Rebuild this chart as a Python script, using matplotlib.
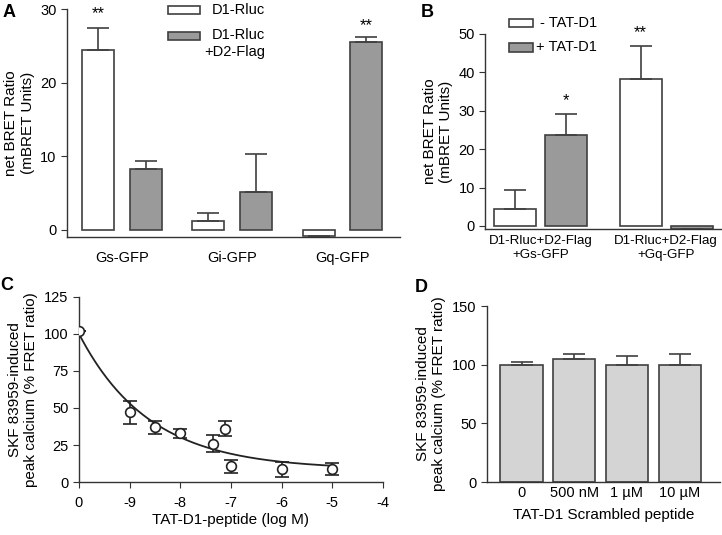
import numpy as np
import matplotlib.pyplot as plt
from matplotlib.patches import Rectangle

plt.rcParams['font.family'] = ['Liberation Sans', 'DejaVu Sans']
plt.rcParams['font.size'] = 10

# panel A
a_groups = ['Gs-GFP', 'Gi-GFP', 'Gq-GFP']
a_d1 = [24.5, 1.2, -0.9]
a_d1_err = [2.9, 1.0, 0.1]
a_d1d2 = [8.3, 5.1, 25.5]
a_d1d2_err = [1.0, 5.2, 0.7]

# panel B
b_groups = ['D1-Rluc+D2-Flag\n+Gs-GFP', 'D1-Rluc+D2-Flag\n+Gq-GFP']
b_minus = [4.5, 38.2]
b_minus_err = [4.8, 8.6]
b_plus = [23.7, -0.7]
b_plus_err = [5.5, 0.3]

# panel C
c_logm = [-10, -9, -8.5, -8, -7.35, -7.12, -7.0, -6, -5]
c_resp = [102, 47, 37, 33, 26, 36, 10.5, 8.5, 8.8]
c_err = [0, 7.7, 4.5, 3, 6, 5, 4.5, 5, 4]
c_ticks = [-10, -9, -8, -7, -6, -5, -4]
c_ticklabels = ['0', '-9', '-8', '-7', '-6', '-5', '-4']

# panel D
d_labels = ['0', '500 nM', '1 \u00b5M', '10 \u00b5M']
d_vals = [100, 105, 100, 100]
d_err = [2.5, 4.5, 7.5, 9.5]

white = 'white'
grey = '#9a9a9a'
edge = '#404040'
ekw = dict(ecolor=edge, elinewidth=1.2, capsize=8, capthick=1.2)

fig = plt.figure(figsize=(7.22, 5.35), dpi=100)


def style(ax):
    for s in ['top', 'right']:
        ax.spines[s].set_visible(False)
    for s in ['left', 'bottom']:
        ax.spines[s].set_color('#333333')
        ax.spines[s].set_linewidth(1.0)
    ax.tick_params(axis='y', direction='out', length=4, color='#333333', labelsize=10.5)
    ax.tick_params(axis='x', length=0, labelsize=10.5, pad=10)


def signed_err(vals, errs):
    # error bar drawn away from zero
    lo = [e if v < 0 else 0 for v, e in zip(vals, errs)]
    hi = [e if v >= 0 else 0 for v, e in zip(vals, errs)]
    return [lo, hi]


def key(ax, x0, y0, w, h, fc, label, tx, ty, size=10.5):
    ax.add_patch(Rectangle((x0, y0), w, h, transform=ax.transAxes, clip_on=False,
                           facecolor=fc, edgecolor=edge, linewidth=1.2))
    ax.text(tx, ty, label, transform=ax.transAxes, ha='left', va='center', fontsize=size)


# ---- A
axA = fig.add_axes([0.0928, 0.557, 0.461, 0.426])
x = np.arange(len(a_groups))
axA.bar(x - 0.217, a_d1, 0.29, color=white, edgecolor=edge, linewidth=1.2,
        yerr=signed_err(a_d1, a_d1_err), error_kw=ekw)
axA.bar(x + 0.217, a_d1d2, 0.29, color=grey, edgecolor=edge, linewidth=1.2,
        yerr=signed_err(a_d1d2, a_d1d2_err), error_kw=ekw)
axA.set_xlim(-0.5, 2.52)
axA.set_ylim(-1, 30)
axA.set_yticks([0, 10, 20, 30])
axA.set_xticks(x)
axA.set_xticklabels(a_groups)
axA.set_ylabel('net BRET Ratio\n(mBRET Units)', fontsize=11)
style(axA)
axA.text(x[0] - 0.217, a_d1[0] + a_d1_err[0] + 0.9, '**', ha='center', va='bottom', fontsize=12)
axA.text(x[2] + 0.217, a_d1d2[2] + a_d1d2_err[2] + 0.5, '**', ha='center', va='bottom', fontsize=12)
key(axA, 0.303, 0.978, 0.096, 0.035, white, 'D1-Rluc', 0.435, 0.997)
key(axA, 0.303, 0.864, 0.096, 0.035, grey, 'D1-Rluc', 0.435, 0.886)
axA.text(0.505, 0.811, '+D2-Flag', transform=axA.transAxes, ha='center', va='center', fontsize=10.5)

# ---- B
axB = fig.add_axes([0.672, 0.572, 0.328, 0.3645])
x = np.arange(len(b_groups))
axB.bar(x - 0.203, b_minus, 0.335, color=white, edgecolor=edge, linewidth=1.2,
        yerr=signed_err(b_minus, b_minus_err), error_kw=ekw)
axB.bar(x + 0.203, b_plus, 0.335, color=grey, edgecolor=edge, linewidth=1.2,
        yerr=signed_err(b_plus, b_plus_err), error_kw=ekw)
axB.set_xlim(-0.442, 1.446)
axB.set_ylim(-0.8, 50)
axB.set_yticks([0, 10, 20, 30, 40, 50])
axB.set_xticks(x)
axB.set_xticklabels(b_groups, linespacing=1.25)
axB.set_ylabel('net BRET Ratio\n(mBRET Units)', fontsize=11)
style(axB)
axB.tick_params(axis='x', pad=4, labelsize=9.6)
axB.text(x[0] + 0.203, b_plus[0] + b_plus_err[0] + 1.5, '*', ha='center', va='bottom', fontsize=12)
axB.text(x[1] - 0.203, b_minus[1] + b_minus_err[1] + 1.5, '**', ha='center', va='bottom', fontsize=12)
key(axB, 0.101, 1.036, 0.102, 0.041, white, '- TAT-D1', 0.232, 1.058)
key(axB, 0.101, 0.908, 0.102, 0.046, grey, '+ TAT-D1', 0.214, 0.933)

# ---- C
axC = fig.add_axes([0.1094, 0.099, 0.421, 0.346])
# one-phase decay fit to the points
xc = np.array(c_logm, dtype=float)
yc = np.array(c_resp, dtype=float)
best = None
for k in np.linspace(0.2, 3, 281):
    e = np.exp(-k * (xc - xc[0]))
    A = np.column_stack([np.ones_like(e), e])
    coef, *_ = np.linalg.lstsq(A, yc, rcond=None)
    r = np.sum((A @ coef - yc) ** 2)
    if best is None or r < best[0]:
        best = (r, k, coef)
_, k, coef = best
xf = np.linspace(-10, -5, 200)
axC.plot(xf, coef[0] + coef[1] * np.exp(-k * (xf - xc[0])), color='#222222', lw=1.3, zorder=2)
axC.errorbar(c_logm, c_resp, yerr=c_err, fmt='o', mfc='white', mec='#222222', ms=7, mew=1.2,
             ecolor='#222222', elinewidth=1.2, capsize=5, capthick=1.2, zorder=3)
axC.set_xlim(-10, -4)
axC.set_ylim(0, 125)
axC.set_yticks([0, 25, 50, 75, 100, 125])
axC.set_xticks(c_ticks)
axC.set_xticklabels(c_ticklabels)
axC.set_xlabel('TAT-D1-peptide (log M)', fontsize=11, labelpad=2)
axC.set_ylabel('SKF 83959-induced\npeak calcium (% FRET ratio)', fontsize=11)
style(axC)
axC.tick_params(axis='x', direction='out', length=4, color='#333333', pad=6)
for sp in axC.spines.values():
    sp.set_clip_on(False)

# ---- D
axD = fig.add_axes([0.6745, 0.099, 0.323, 0.329])
x = np.arange(len(d_labels))
axD.bar(x, d_vals, 0.8, color='#d4d4d4', edgecolor=edge, linewidth=1.2,
        yerr=[[0] * 4, d_err], error_kw=ekw)
axD.set_xlim(-0.655, 3.77)
axD.set_ylim(0, 150)
axD.set_yticks([0, 50, 100, 150])
axD.set_xticks(x)
axD.set_xticklabels(d_labels)
axD.set_xlabel('TAT-D1 Scrambled peptide', fontsize=11, labelpad=5.5)
axD.set_ylabel('SKF 83959-induced\npeak calcium (% FRET ratio)', fontsize=11)
style(axD)
axD.tick_params(axis='x', pad=3)

for lab, xx, yy in [('A', 0.003, 0.977), ('B', 0.583, 0.977), ('C', 0.0, 0.466), ('D', 0.575, 0.462)]:
    fig.text(xx, yy, lab, fontsize=13, fontweight='bold', va='center')

fig.savefig('out.png', dpi=100)
